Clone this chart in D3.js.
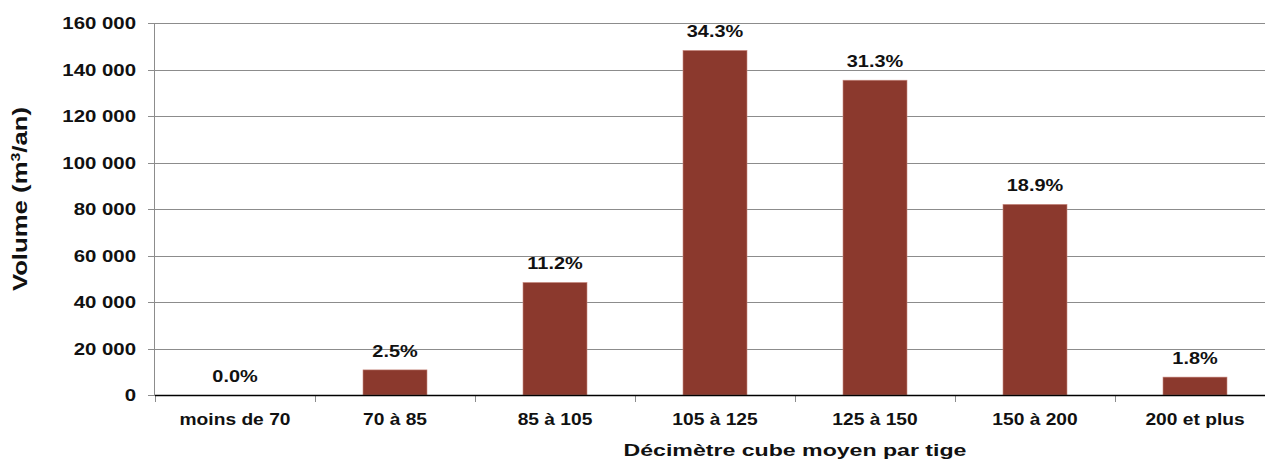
<!DOCTYPE html>
<html>
<head>
<meta charset="utf-8">
<script src="https://cdn.jsdelivr.net/npm/d3@7"></script>
<style>
  body { margin: 0; background: #fff; }
  text { font-family: "Liberation Sans", Arial, sans-serif; font-weight: bold; fill: #111; }
</style>
</head>
<body>
<div id="chart"></div>
<script>
const categories = ['moins de 70', '70 à 85', '85 à 105', '105 à 125', '125 à 150', '150 à 200', '200 et plus'];
const volumes = [0, 10800, 48400, 148200, 135400, 82000, 7700];
const percents = ['0.0%', '2.5%', '11.2%', '34.3%', '31.3%', '18.9%', '1.8%'];
const yTicks = [0, 20000, 40000, 60000, 80000, 100000, 120000, 140000, 160000];

const width = 1265, height = 461;
const margin = { top: 23, right: -10, bottom: 66, left: 155 };
const fontSize = 17;

const svg = d3.select('#chart').append('svg')
  .attr('width', width)
  .attr('height', height);

const x = d3.scaleBand()
  .domain(categories)
  .range([margin.left, width - margin.right])
  .paddingInner(0.6)
  .paddingOuter(0.3);

const y = d3.scaleLinear()
  .domain([0, 160000])
  .range([height - margin.bottom, margin.top]);

const fmt = v => d3.format(',')(v).replace(/,/g, ' ');

// text stretched horizontally around its anchor (the original chart is wider than tall)
function sText(g, tx, ty, str, anchor, stretch) {
  return g.append('text')
    .attr('transform', `translate(${tx},${ty}) scale(${stretch},1)`)
    .attr('text-anchor', anchor)
    .style('font-size', fontSize + 'px')
    .text(str);
}

// gridlines
svg.append('g')
  .selectAll('line')
  .data(yTicks.filter(d => d > 0))
  .join('line')
  .attr('x1', margin.left - 7)
  .attr('x2', width)
  .attr('y1', d => Math.round(y(d)) + 0.5)
  .attr('y2', d => Math.round(y(d)) + 0.5)
  .attr('stroke', '#8c8c8c')
  .attr('stroke-width', 1);

// y axis line + zero tick
svg.append('line')
  .attr('x1', margin.left - 0.5).attr('x2', margin.left - 0.5)
  .attr('y1', y(160000)).attr('y2', y(0))
  .attr('stroke', '#8c8c8c');
svg.append('line')
  .attr('x1', margin.left - 7).attr('x2', margin.left)
  .attr('y1', Math.round(y(0)) + 0.5).attr('y2', Math.round(y(0)) + 0.5)
  .attr('stroke', '#8c8c8c');

// category ticks (band edges)
const step = x.step();
const edges = categories.map(c => x(c) + x.bandwidth() / 2 - step / 2)
  .concat([x(categories[categories.length - 1]) + x.bandwidth() / 2 + step / 2]);
svg.append('g')
  .selectAll('line')
  .data(edges)
  .join('line')
  .attr('x1', d => Math.round(d) + 0.5)
  .attr('x2', d => Math.round(d) + 0.5)
  .attr('y1', y(0))
  .attr('y2', y(0) + 7)
  .attr('stroke', '#8c8c8c');

// bars
svg.append('g')
  .selectAll('rect')
  .data(volumes)
  .join('rect')
  .attr('x', (d, i) => x(categories[i]))
  .attr('width', x.bandwidth())
  .attr('y', d => y(d))
  .attr('height', d => y(0) - y(d))
  .attr('fill', '#8b392d')
  .attr('stroke', '#c98a80')
  .attr('stroke-width', 0.6);

// baseline
svg.append('line')
  .attr('x1', margin.left).attr('x2', width)
  .attr('y1', Math.round(y(0)) + 0.5).attr('y2', Math.round(y(0)) + 0.5)
  .attr('stroke', '#000').attr('stroke-width', 1.5);

const labels = svg.append('g');

// y tick labels
yTicks.forEach(t => sText(labels, 136, y(t) + 6, fmt(t), 'end', 1.2));

// category labels
categories.forEach(c => sText(labels, x(c) + x.bandwidth() / 2, 425, c, 'middle', 1.13));

// value labels
volumes.forEach((v, i) => sText(labels, x(categories[i]) + x.bandwidth() / 2, y(v) - 13, percents[i], 'middle', 1.17));

// axis titles
sText(labels, 795, 456, 'Décimètre cube moyen par tige', 'middle', 1.36);
const yt = labels.append('text')
  .attr('transform', `translate(27,199) rotate(-90) scale(1.32,1)`)
  .attr('text-anchor', 'middle')
  .style('font-size', '19.5px');
yt.append('tspan').text('Volume (m');
yt.append('tspan').attr('baseline-shift', 'super').style('font-size', '12px').text('3');
yt.append('tspan').text('/an)');
</script>
</body>
</html>
